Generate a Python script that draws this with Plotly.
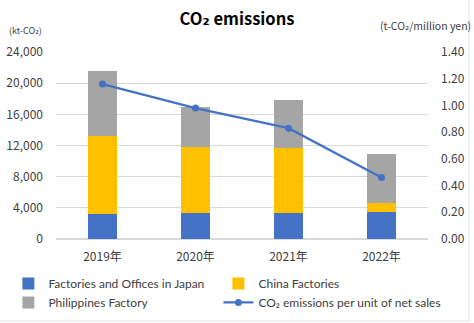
import plotly.graph_objects as go

years = ["2019年", "2020年", "2021年", "2022年"]
japan = [3200, 3340, 3300, 3430]
china = [10060, 8430, 8420, 1190]
philippines = [8300, 5130, 6120, 6250]
intensity = [1.16, 0.98, 0.83, 0.46]

FONT = "Noto Sans CJK JP, DejaVu Sans, sans-serif"
LEG_FONT = dict(size=12, color="#404040", family="Lato, DejaVu Sans, sans-serif")

fig = go.Figure()
fig.add_trace(go.Bar(x=years, y=japan, name="Factories and Offices in Japan",
                     marker_color="#4472C4", marker_line_width=0, legend="legend"))
fig.add_trace(go.Bar(x=years, y=china, name="China Factories",
                     marker_color="#FFC000", marker_line_width=0, legend="legend2"))
fig.add_trace(go.Bar(x=years, y=philippines, name="Philippines Factory",
                     marker_color="#A5A5A5", marker_line_width=0, legend="legend"))
fig.add_trace(go.Scatter(x=years, y=intensity, name="CO₂ emissions per unit of net sales",
                         mode="lines+markers", yaxis="y2", legend="legend2",
                         line=dict(color="#4472C4", width=2.25),
                         marker=dict(color="#4472C4", size=7)))

fig.update_layout(
    width=474, height=323,
    margin=dict(l=56, r=46, t=52, b=84, autoexpand=False),
    paper_bgcolor="white", plot_bgcolor="white",
    font=dict(family=FONT, size=12, color="#404040"),
    barmode="stack", bargap=0.69,
    title=dict(text="<b>CO₂ emissions</b>", x=0.5, xanchor="center",
               y=0.94, yanchor="middle",
               font=dict(size=16.5, color="#000000", family=FONT)),
    xaxis=dict(showgrid=False, showline=False, ticks="", ticklabelstandoff=9,
               tickfont=dict(size=12, color="#404040")),
    yaxis=dict(range=[0, 24000], dtick=4000, tickformat=",",
               showgrid=True, gridcolor="#D9D9D9", gridwidth=1,
               zeroline=True, zerolinecolor="#D9D9D9", showline=False,
               ticks="", ticklabelstandoff=12,
               tickfont=dict(size=12, color="#404040")),
    yaxis2=dict(range=[0, 1.4], dtick=0.2, tickformat=".2f",
                overlaying="y", side="right", showgrid=False,
                zeroline=False, showline=False, ticks="", ticklabelstandoff=12,
                tickfont=dict(size=12, color="#404040")),
    legend=dict(orientation="v", x=-0.128, xanchor="left", y=-0.16, yanchor="top",
                traceorder="normal", font=LEG_FONT, itemwidth=30,
                tracegroupgap=0, bgcolor="rgba(0,0,0,0)"),
    legend2=dict(orientation="v", x=0.4366, xanchor="left", y=-0.16, yanchor="top",
                 traceorder="normal", font=LEG_FONT, itemwidth=30,
                 tracegroupgap=0, bgcolor="rgba(0,0,0,0)"),
    annotations=[
        dict(text="(kt-CO₂)", xref="paper", yref="paper", x=-0.132, y=1.07,
             xanchor="left", yanchor="bottom", showarrow=False,
             font=dict(size=9, color="#404040")),
        dict(text="(t-CO₂/million yen)", xref="paper", yref="paper", x=1.12, y=1.09,
             xanchor="right", yanchor="bottom", showarrow=False,
             font=dict(size=10.5, color="#404040")),
    ],
    shapes=[dict(type="rect", xref="paper", yref="paper",
                 x0=-0.16, x1=1.110, y0=-0.4385, y1=1.35,
                 line=dict(color="#E3E3E3", width=1))],
)

fig.write_html("out.html")
